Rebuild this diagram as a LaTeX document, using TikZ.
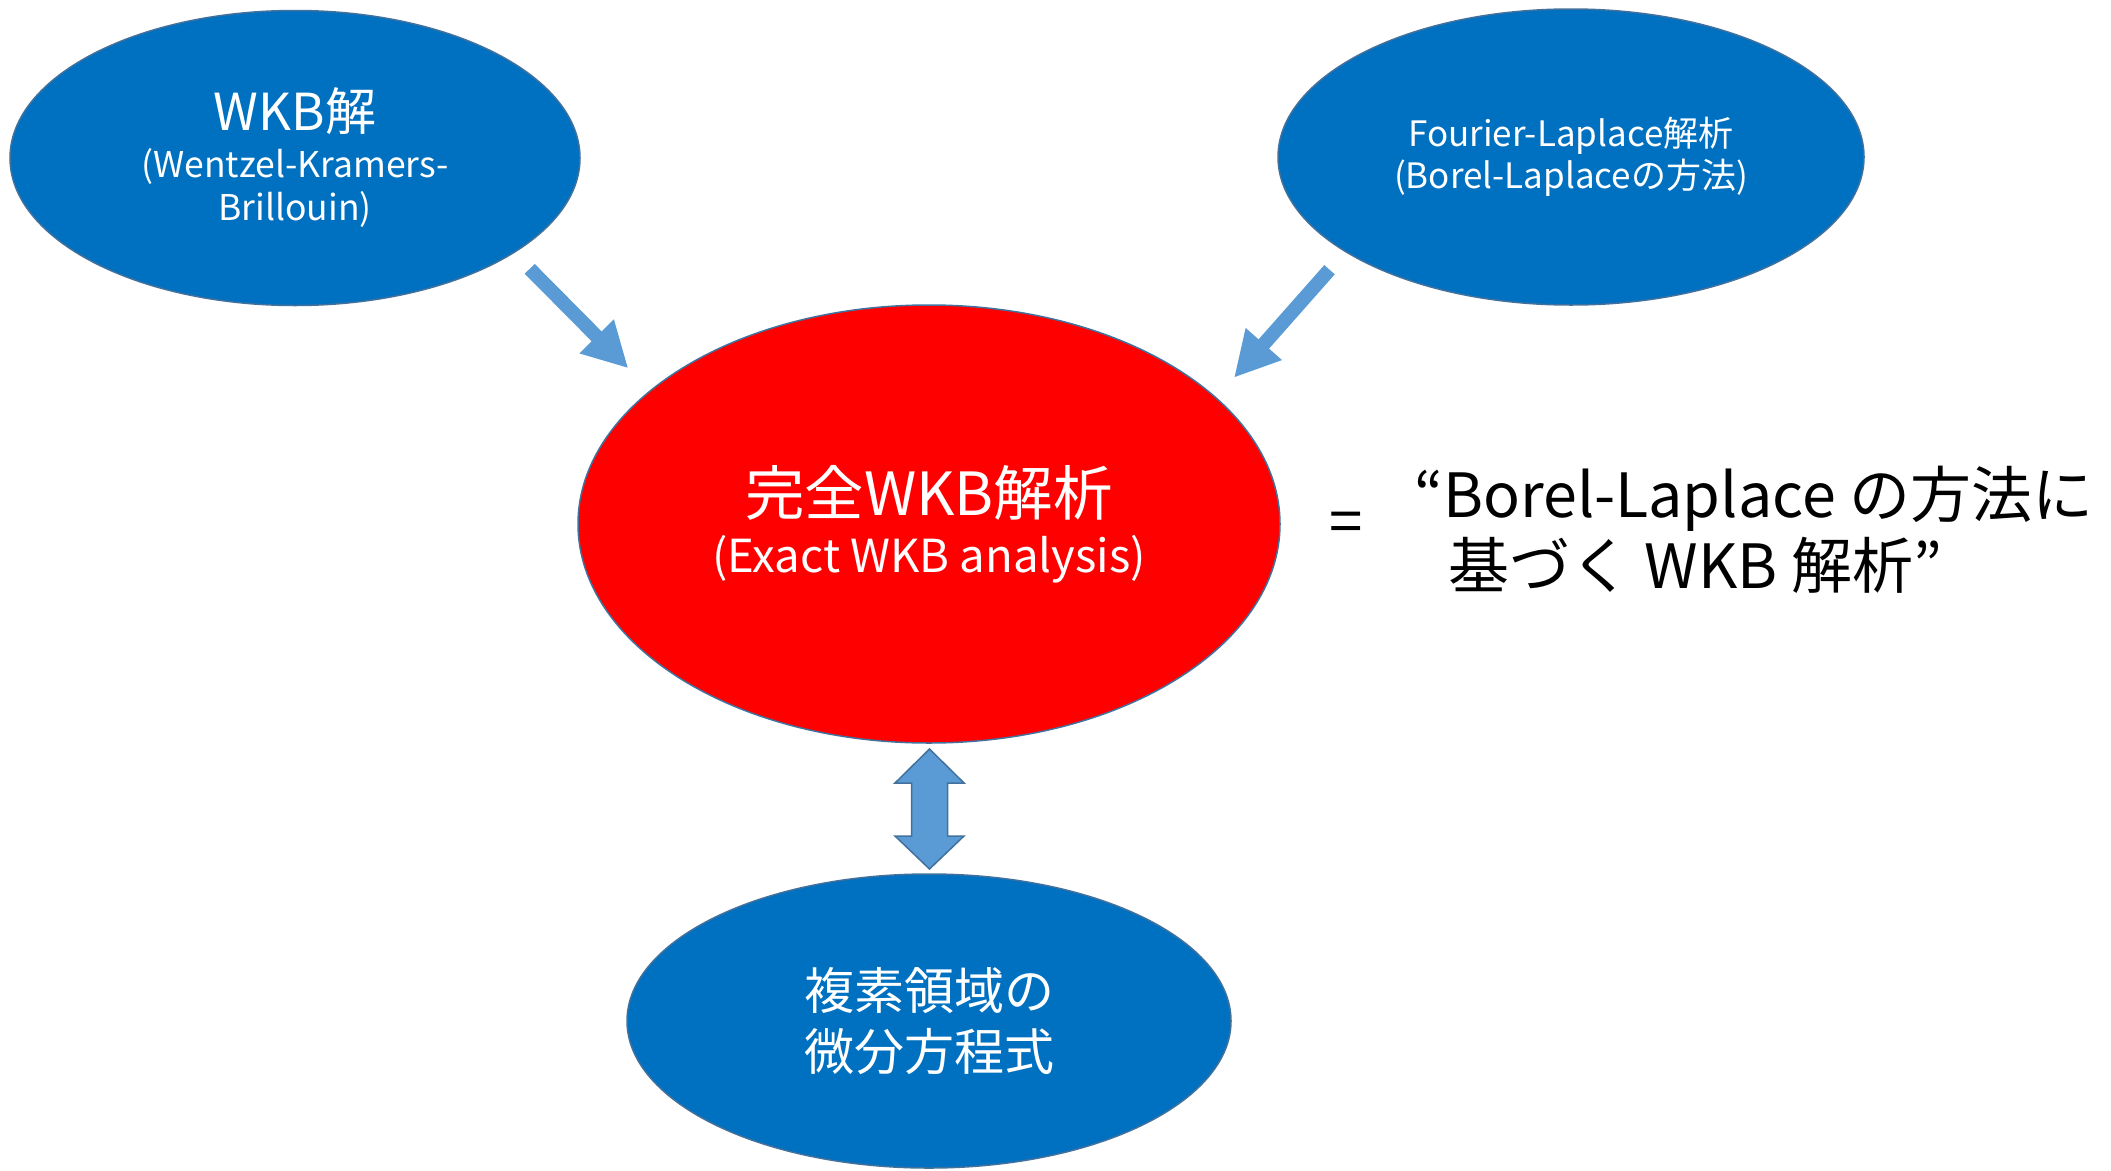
\documentclass[tikz,border=0pt]{standalone}
\usepackage{fontspec}
\setmainfont{Noto Sans CJK JP}
\usetikzlibrary{shapes.geometric,arrows.meta}
\definecolor{obl}{HTML}{0070C0}
\definecolor{oedge}{HTML}{41719C}
\definecolor{oarr}{HTML}{5B9BD5}
\definecolor{ored}{HTML}{FF0000}
\begin{document}
\begin{tikzpicture}[x=1pt,y=-1pt,
  blob/.style={ellipse, draw=oedge, line width=1.5pt, fill=obl, text=white, align=center, inner sep=0pt},
  thinarrow/.style={draw=oarr, line width=14pt, line cap=butt, -{Triangle[width=45pt,length=45pt]}},
]
\useasboundingbox (0,0) rectangle (2111,1170);
\node[blob, minimum width=570pt, minimum height=295pt, font=\fontsize{35.5}{43}\selectfont] (wkb) at (295,158)
  {{\fontsize{51}{51}\selectfont WKB解}\\[4pt](Wentzel-Kramers-\\Brillouin)};
\node[blob, minimum width=586pt, minimum height=296pt, font=\fontsize{35}{42}\selectfont] (fl) at (1571,157)
  {Fourier-Laplace解析\\(Borel-Laplaceの方法)};
\node[blob, fill=ored, minimum width=702pt, minimum height=438pt, font=\fontsize{45.5}{57}\selectfont] (ex) at (929,524)
  {{\fontsize{59.5}{59.5}\selectfont 完全WKB解析}\\(Exact WKB analysis)};
\node[blob, minimum width=604pt, minimum height=294pt, font=\fontsize{50}{61}\selectfont] (cd) at (929,1021)
  {複素領域の\\微分方程式};
\node[font=\fontsize{60}{71}\selectfont, inner sep=0pt] (eq) at (1346,528) {=};
\node[font=\fontsize{61}{71}\selectfont, inner sep=0pt, align=left, anchor=west] (bl) at (1414,530)
  {“Borel-Laplace の方法に\\\hspace*{34pt}基づく WKB 解析”};
\coordinate (t1) at (529.7,268.8); \coordinate (h1) at (628.3,368.3);
\draw[thinarrow] (t1) -- (h1);
\coordinate (t2) at (1329.5,269.7); \coordinate (h2) at (1234,377.7);
\draw[thinarrow] (t2) -- (h2);
\filldraw[fill=oarr, draw=oedge, line width=1.5pt, line join=miter]
  (929.5,749) -- (964,783) -- (947.5,783) -- (947.5,836) -- (964,836) -- (929.5,869)
  -- (895,836) -- (911.5,836) -- (911.5,783) -- (895,783) -- cycle;
\end{tikzpicture}
\end{document}
